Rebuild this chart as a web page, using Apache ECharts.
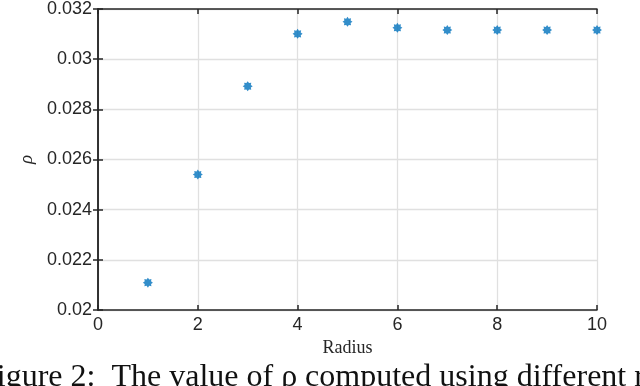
<!DOCTYPE html>
<html>
<head>
<meta charset="utf-8">
<script src="https://cdn.jsdelivr.net/npm/echarts@6/dist/echarts.min.js"></script>
<style>
  html, body { margin: 0; padding: 0; background: #fff; }
  #chart { width: 640px; height: 386px; }
</style>
</head>
<body>
<div id="chart"></div>
<script>
const radius = [1, 2, 3, 4, 5, 6, 7, 8, 9, 10]
const rho = [0.02109, 0.0254, 0.02892, 0.03101, 0.03149, 0.03125, 0.03116, 0.03116, 0.03116, 0.03116]

const chart = echarts.init(document.getElementById('chart'))
const tickFont = { color: '#262626', fontSize: 18, fontFamily: 'Liberation Sans, Arial, sans-serif' }
const axisLine = { show: true, lineStyle: { color: '#262626', width: 1.5 } }
const tick = { show: true, inside: true, length: 5, lineStyle: { color: '#262626', width: 1.5 } }
const grid = { show: true, lineStyle: { color: '#e0e0e0', width: 1.3 } }

// rough asterisk-ish blob like matlab '*'
const star = 'path://M0,-10 L2.6,-6.3 L7.1,-7.1 L6.3,-2.6 L10,0 L6.3,2.6 L7.1,7.1 L2.6,6.3 L0,10 L-2.6,6.3 L-7.1,7.1 L-6.3,2.6 L-10,0 L-6.3,-2.6 L-7.1,-7.1 L-2.6,-6.3 Z'

const option = {
  animation: false,
  grid: { left: 98, right: 43, top: 6, bottom: 76 },
  xAxis: [{
    type: 'value', min: 0, max: 10, interval: 2,
    name: 'Radius', nameLocation: 'middle', nameGap: 28,
    nameTextStyle: { fontFamily: 'Liberation Serif, DejaVu Serif, serif', fontSize: 18, color: '#262626' },
    axisLine, axisTick: tick, splitLine: grid,
    axisLabel: { ...tickFont, margin: 6 }
  }, {
    type: 'value', position: 'top', min: 0, max: 10, interval: 2,
    axisLine, axisTick: tick, splitLine: { show: false }, axisLabel: { show: false }
  }],
  yAxis: [{
    type: 'value', min: 0.02, max: 0.032, interval: 0.002,
    name: 'ρ', nameLocation: 'middle', nameGap: 61, nameRotate: 90,
    nameTextStyle: { fontFamily: 'Liberation Serif, DejaVu Serif, serif', fontStyle: 'italic', fontSize: 19, color: '#262626' },
    axisLine, axisTick: tick, splitLine: grid,
    axisLabel: { ...tickFont, margin: 6, formatter: v => String(+v.toFixed(3)) }
  }, {
    type: 'value', position: 'right', min: 0.02, max: 0.032, interval: 0.002,
    axisLine, axisTick: tick, splitLine: { show: false }, axisLabel: { show: false }
  }],
  graphic: [{
    type: 'text', left: -21, top: 362,
    style: {
      text: 'Figure 2:  The value of ρ computed using different radius',
      font: '32px "Liberation Serif", "DejaVu Serif", serif',
      fill: '#111'
    }
  }],
  series: [{
    type: 'scatter',
    data: radius.map((r, i) => [r, rho[i]]),
    symbol: star, symbolSize: 10,
    itemStyle: { color: '#0072BD' }
  }]
}
chart.setOption(option)
window.addEventListener('resize', () => chart.resize())
</script>
</body>
</html>
